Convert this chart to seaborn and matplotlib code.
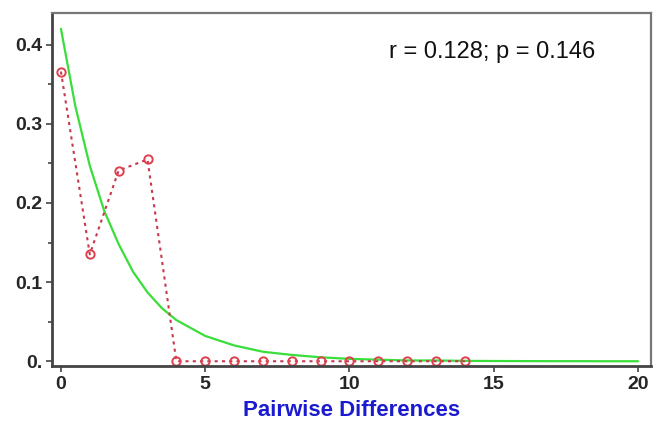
import numpy as np
import pandas as pd
import matplotlib
matplotlib.use("Agg")
import matplotlib.pyplot as plt
import seaborn as sns
from matplotlib.ticker import MultipleLocator

# observed mismatch distribution
obs_x = [0, 1, 2, 3, 4, 5, 6, 7, 8, 9, 10, 11, 12, 13, 14]
obs_y = [0.366, 0.135, 0.241, 0.255, 0.0, 0.0, 0.0, 0.0, 0.0, 0.0, 0.0, 0.0, 0.0, 0.0, 0.0]

# expected curve
exp_x = [0, 0.5, 1, 1.5, 2, 2.5, 3, 3.5, 4, 5, 6, 7, 8, 9, 10, 11, 12, 13, 14, 15, 16, 17, 18, 19, 20]
exp_y = [0.42, 0.322, 0.247, 0.19, 0.148, 0.113, 0.087, 0.067, 0.052, 0.032, 0.02, 0.012,
         0.008, 0.005, 0.003, 0.002, 0.001, 0.001, 0.0005, 0.0003, 0.0002, 0.0001, 0.0001, 0.0, 0.0]

x_ticks = [0, 5, 10, 15, 20]
y_ticks = [0.0, 0.1, 0.2, 0.3, 0.4]
y_tick_labels = ["0.", "0.1", "0.2", "0.3", "0.4"]
stat_text = "r = 0.128; p = 0.146"

obs_df = pd.DataFrame({"diff": obs_x, "freq": obs_y})
exp_df = pd.DataFrame({"diff": exp_x, "freq": exp_y})

sns.set_style("white")
plt.rcParams["font.family"] = ["Liberation Sans", "DejaVu Sans"]

fig = plt.figure(figsize=(6.58, 4.23), dpi=100)
ax = fig.add_axes([52 / 658, 1 - 366 / 423, (651 - 52) / 658, (366 - 13) / 423])

sns.lineplot(data=exp_df, x="diff", y="freq", ax=ax, color="#3ade3a", linewidth=1.6)
sns.lineplot(data=obs_df, x="diff", y="freq", ax=ax, color="#c8384e", linewidth=1.5,
             linestyle=(0, (1.5, 2.0)), marker="o", markersize=6,
             markerfacecolor="none", markeredgecolor="#e0404e", markeredgewidth=1.4)

ax.set_xlim(-0.31, 20.45)
ax.set_ylim(-0.006, 0.44)
ax.set_xticks(x_ticks)
ax.set_yticks(y_ticks)
ax.set_yticklabels(y_tick_labels)
ax.yaxis.set_minor_locator(MultipleLocator(0.05))

for lab in ax.get_xticklabels() + ax.get_yticklabels():
    lab.set_fontweight("bold")
    lab.set_fontsize(14)

ax.tick_params(axis="both", which="major", direction="out", length=4, width=1.2,
               color="#444444", left=True, bottom=True, pad=3)
ax.tick_params(axis="y", which="minor", direction="out", length=3, width=1.2,
               color="#444444", left=True)

ax.set_xlabel("Pairwise Differences", fontsize=16, fontweight="bold", color="#1a1ad0", labelpad=5)
ax.set_ylabel("")

for side in ["left", "bottom"]:
    ax.spines[side].set_color("#444444")
    ax.spines[side].set_linewidth(2.0)
for side in ["top", "right"]:
    ax.spines[side].set_color("#777777")
    ax.spines[side].set_linewidth(1.6)

ax.text(0.735, 0.89, stat_text, transform=ax.transAxes, fontsize=17,
        ha="center", va="center", color="#111111")

fig.savefig("out.png", dpi=100)
